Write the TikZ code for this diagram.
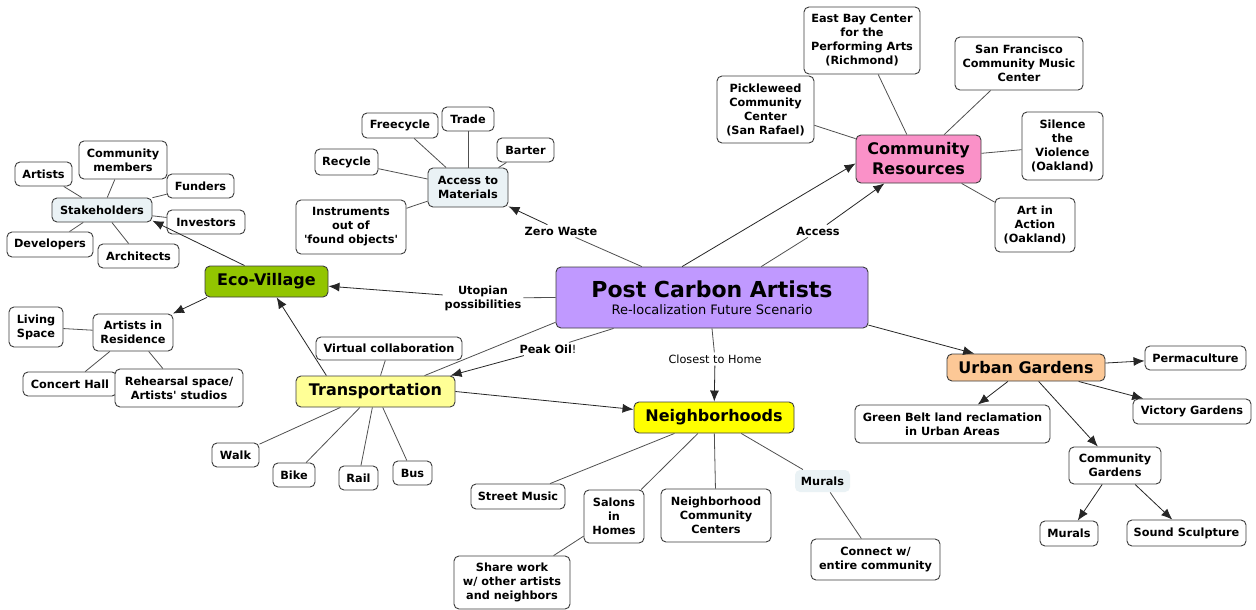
\documentclass[tikz,border=0pt]{standalone}
\usepackage{fontspec}
\setmainfont{DejaVu Sans}
\usetikzlibrary{arrows.meta}
\definecolor{bordergray}{RGB}{60,60,60}
\definecolor{linegray}{RGB}{80,80,80}
\definecolor{pcapurple}{RGB}{192,153,255}
\definecolor{ecogreen}{RGB}{146,197,0}
\definecolor{crpink}{RGB}{250,145,200}
\definecolor{ugpeach}{RGB}{252,200,150}
\definecolor{nbyellow}{RGB}{255,255,0}
\definecolor{tryellow}{RGB}{255,255,150}
\definecolor{lightblue}{RGB}{234,242,245}
\begin{document}
\begin{tikzpicture}[x=1pt,y=-1pt,
  box/.style={draw=bordergray, fill=white, rounded corners=5pt, line width=0.9pt, align=center, inner sep=0pt, font=\bfseries\fontsize{11.3}{14}\selectfont},
  big/.style={box, font=\bfseries\fontsize{16}{20}\selectfont},
  lbl/.style={font=\bfseries\fontsize{11.3}{14}\selectfont, align=center, inner sep=2pt},
  con/.style={draw=linegray, line width=0.8pt},
  arr/.style={draw=black!85, line width=0.8pt, -{Latex[length=11pt,width=9pt]}},
]
\useasboundingbox[fill=white] (0,0) rectangle (1256,610);

% central node
\node[box, fill=pcapurple, minimum width=312, minimum height=61] (pca) at (712,297.5)
  {{\fontsize{22}{24}\selectfont Post Carbon Artists}\\[3pt]{\fontsize{13}{15}\selectfont\mdseries Re-localization Future Scenario}};

% Eco-Village
\node[big, fill=ecogreen, minimum width=123, minimum height=31] (eco) at (266.5,281.5) {Eco-Village};
\node[box, fill=lightblue, minimum width=100, minimum height=24] (sh) at (102,210) {Stakeholders};
\node[box, minimum width=57, minimum height=24] (art) at (43.5,174) {Artists};
\node[box, minimum width=88, minimum height=38] (cm) at (123,160) {Community\\members};
\node[box, minimum width=67, minimum height=24] (fund) at (200.5,186) {Funders};
\node[box, minimum width=78, minimum height=24] (inv) at (206,222) {Investors};
\node[box, minimum width=86, minimum height=25] (dev) at (50,244.5) {Developers};
\node[box, minimum width=81, minimum height=24] (arch) at (138.5,256) {Architects};
\node[box, minimum width=80, minimum height=37] (air) at (133,332.5) {Artists in\\Residence};
\node[box, minimum width=54, minimum height=40] (ls) at (36,327) {Living\\Space};
\node[box, minimum width=94, minimum height=24] (ch) at (70,384) {Concert Hall};
\node[box, minimum width=128, minimum height=38] (rh) at (179,388) {Rehearsal space/\\Artists\textquotesingle\ studios};

% Access to materials
\node[box, fill=lightblue, minimum width=80, minimum height=39] (am) at (468,187.5) {Access to\\Materials};
\node[box, minimum width=63, minimum height=26] (rec) at (346.5,162) {Recycle};
\node[box, minimum width=76, minimum height=25] (free) at (400,125.5) {Freecycle};
\node[box, minimum width=52, minimum height=24] (trade) at (468,119) {Trade};
\node[box, minimum width=57, minimum height=24] (bart) at (525.5,150) {Barter};
\node[box, minimum width=110, minimum height=54] (inst) at (351,227) {Instruments\\out of\\\textquotesingle found objects\textquotesingle};

% Community resources
\node[big, fill=crpink, minimum width=125, minimum height=48] (cr) at (918.5,159) {Community\\Resources};
\node[box, minimum width=97, minimum height=67] (pick) at (765.5,109.5) {Pickleweed\\Community\\Center\\(San Rafael)};
\node[box, minimum width=116, minimum height=67] (ebc) at (862,40.5) {East Bay Center\\for the\\Performing Arts\\(Richmond)};
\node[box, minimum width=128, minimum height=53] (sfc) at (1019,63.5) {San Francisco\\Community Music\\Center};
\node[box, minimum width=81, minimum height=68] (stv) at (1062.5,146) {Silence\\the\\Violence\\(Oakland)};
\node[box, minimum width=80, minimum height=54] (aia) at (1035,225) {Art in\\Action\\(Oakland)};

% Urban gardens
\node[big, fill=ugpeach, minimum width=158, minimum height=27] (ug) at (1026,367.5) {Urban Gardens};
\node[box, minimum width=101, minimum height=24] (perm) at (1195.5,358) {Permaculture};
\node[box, minimum width=118, minimum height=25] (vic) at (1192,411.5) {Victory Gardens};
\node[box, minimum width=195, minimum height=38] (gb) at (952.5,424) {Green Belt land reclamation\\in Urban Areas};
\node[box, minimum width=92, minimum height=37] (cg) at (1115,465.5) {Community\\Gardens};
\node[box, minimum width=58, minimum height=25] (murb) at (1069,533.5) {Murals};
\node[box, minimum width=119, minimum height=26] (ss) at (1186.5,533) {Sound Sculpture};

% Neighborhoods
\node[big, fill=nbyellow, minimum width=160, minimum height=31] (nb) at (714,417.5) {Neighborhoods};
\node[box, minimum width=94, minimum height=25] (sm) at (518,496.5) {Street Music};
\node[box, minimum width=60, minimum height=53] (sal) at (614,516.5) {Salons\\in\\Homes};
\node[box, minimum width=110, minimum height=53] (ncc) at (716,515.5) {Neighborhood\\Community\\Centers};
\node[box, draw=none, fill=lightblue, minimum width=55, minimum height=22] (mura) at (822.5,481) {Murals};
\node[box, minimum width=129, minimum height=41] (conn) at (875.5,559.5) {Connect w/\\entire community};
\node[box, minimum width=116, minimum height=53] (share) at (512,582.5) {Share work\\w/ other artists\\and neighbors};

% Transportation
\node[big, fill=tryellow, minimum width=159, minimum height=31] (tr) at (375.5,391.5) {Transportation};
\node[box, minimum width=146, minimum height=23] (vc) at (389,348.5) {Virtual collaboration};
\node[box, minimum width=47, minimum height=24] (walk) at (235.5,455) {Walk};
\node[box, minimum width=42, minimum height=24] (bike) at (294,475) {Bike};
\node[box, minimum width=39, minimum height=24] (rail) at (358.5,478) {Rail};
\node[box, minimum width=39, minimum height=24] (bus) at (412.5,473) {Bus};

% link labels
\node[lbl] (zw) at (561,231) {Zero Waste};
\node[lbl] (acc) at (818,231) {Access};
\node[lbl] (ut) at (483,298) {Utopian\\possibilities};
\node[lbl] (po) at (548,349) {Peak Oil{\mdseries!}};
\node[lbl, font=\fontsize{11.3}{14}\selectfont] (cth) at (715,359) {Closest to Home};

% plain connectors
\foreach \t in {art,cm,fund,inv,dev,arch} \draw[con] (sh) -- (\t);
\foreach \t in {ls,ch,rh} \draw[con] (air) -- (\t);
\foreach \t in {rec,free,trade,bart,inst} \draw[con] (am) -- (\t);
\foreach \t in {pick,ebc,sfc,stv,aia} \draw[con] (cr) -- (\t);
\foreach \t in {sm,sal,ncc,mura} \draw[con] (nb) -- (\t);
\draw[con] (sal) -- (share);
\draw[con] (mura) -- (conn);
\foreach \t in {vc,walk,bike,rail,bus} \draw[con] (tr) -- (\t);
\draw[con] (pca.189) -- (tr.18);

% labelled arrows
\draw[con] (pca) -- (zw);
\draw[arr] (zw) -- (am);
\draw[con] (pca) -- (acc);
\draw[arr] (acc) -- (cr);
\draw[con] (pca.west) -- (ut);
\draw[arr] (ut) -- (eco);
\draw[con] (pca) -- (po);
\draw[arr] (po) -- (tr.12);
\draw[con] (pca.south) -- (cth);
\draw[arr] (cth) -- (nb);

% plain arrows
\draw[arr] (pca.134) -- (cr.184);
\draw[arr] (pca.-10) -- (ug);
\draw[arr] (tr.162) -- (eco);
\draw[arr] (tr.east) -- (nb);
\draw[arr] (eco.144) -- (sh.-12);
\draw[arr] (eco.195) -- (air);
\draw[arr] (ug) -- (perm);
\draw[arr] (ug) -- (vic);
\draw[arr] (ug) -- (gb);
\draw[arr] (ug) -- (cg);
\draw[arr] (cg) -- (murb);
\draw[arr] (cg) -- (ss);
\end{tikzpicture}
\end{document}
